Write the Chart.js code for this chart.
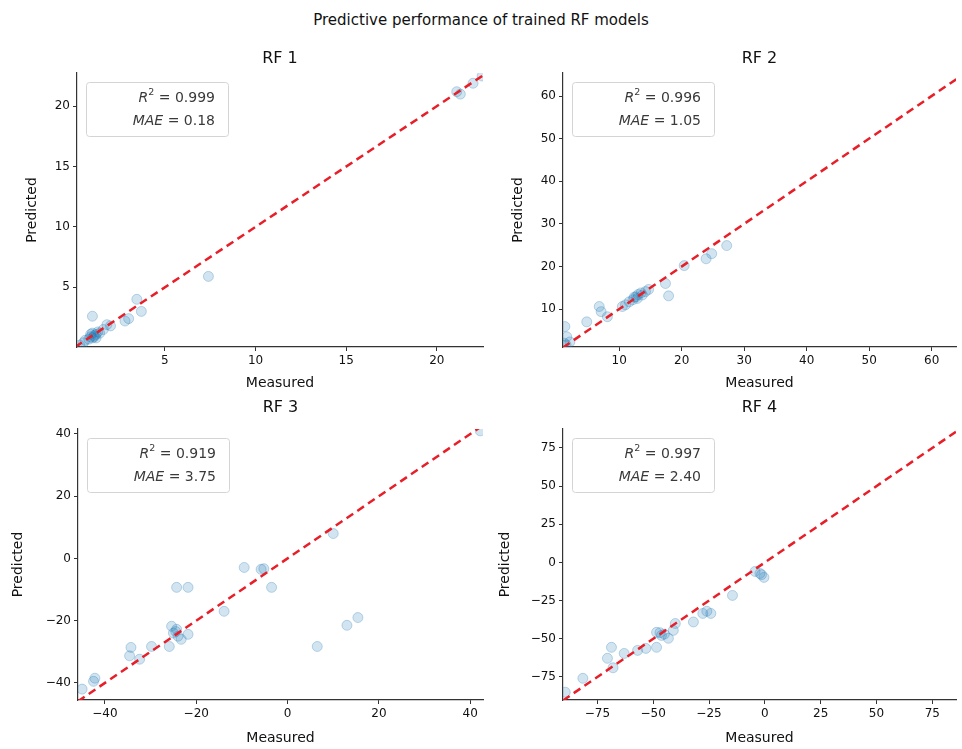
<!DOCTYPE html>
<html>
<head>
<meta charset="utf-8">
<script src="https://cdn.jsdelivr.net/npm/chart.js@4.4.0/dist/chart.umd.min.js"></script>
<style>
  html, body { margin: 0; padding: 0; background: #fff; overflow: hidden; }
  body { width: 962px; height: 749px; position: relative; font-family: "DejaVu Sans", sans-serif; }
  #suptitle { position: absolute; left: 0; top: 11px; width: 962px; text-align: center; font-size: 15px; color: #111; }
  canvas { position: absolute; }
</style>
</head>
<body>
<div id="suptitle">Predictive performance of trained RF models</div>
<canvas id="rf1" width="490" height="360" style="left:0;top:40px"></canvas>
<canvas id="rf2" width="472" height="360" style="left:490px;top:40px"></canvas>
<canvas id="rf3" width="490" height="354" style="left:0;top:395px"></canvas>
<canvas id="rf4" width="472" height="354" style="left:490px;top:395px"></canvas>
<script>
// 数据
const rf1Measured  = [0.3, 0.5, 0.6, 0.8, 0.9, 1.0, 1.1, 1.2, 1.3, 1.1, 1.4, 1.6, 0.9, 1.2, 1.0, 1.0, 1.8, 2.0, 2.8, 3.0, 3.45, 3.7, 7.4, 21.1, 21.3, 22.0, 22.5];
const rf1Predicted = [0.2, 0.4, 0.6, 0.7, 0.9, 1.2, 0.9, 1.1, 1.3, 1.0, 1.2, 1.5, 1.1, 0.8, 0.8, 2.6, 1.9, 1.8, 2.2, 2.4, 4.0, 3.0, 5.9, 21.2, 21.0, 21.9, 22.5];

const rf2Measured  = [1.3, 1.6, 2.1, 1.2, 1.5, 4.8, 6.8, 7.1, 8.1, 10.5, 11.0, 11.6, 12.2, 12.7, 12.9, 13.5, 13.7, 14.2, 14.7, 13.0, 12.4, 17.4, 17.9, 20.4, 23.9, 24.8, 27.2];
const rf2Predicted = [5.9, 3.5, 2.3, 2.0, 1.6, 7.0, 10.6, 9.4, 8.2, 10.6, 11.0, 11.7, 12.2, 12.9, 12.5, 13.8, 13.3, 14.1, 14.6, 13.4, 12.8, 16.0, 13.1, 20.2, 21.8, 23.0, 24.9];

const rf3Measured  = [-45, -42.2, -42.5, -34.3, -34.6, -32.4, -29.8, -25.9, -25.4, -24.3, -25, -24, -23.3, -21.8, -24.5, -24.3, -21.8, -13.9, -9.5, -5.8, -5.2, -3.5, 6.5, 13.0, 15.4, 10, 42.2];
const rf3Predicted = [-42, -38.5, -39.5, -28.6, -31.3, -32.4, -28.3, -28.3, -21.8, -22.8, -24, -25, -26, -24.4, -23.5, -9.3, -9.3, -17, -2.9, -3.5, -3.3, -9.3, -28.3, -21.5, -19, 8, 41];

const rf4Measured  = [-89.4, -81.5, -70.5, -68.7, -63, -68, -57, -53.3, -48.5, -48.5, -46.3, -43.2, -41, -40.1, -45, -47, -32, -27.8, -26, -24.2, -14.5, -4.4, -2.2, -0.4, -1.5];
const rf4Predicted = [-85, -75.9, -62.8, -55.6, -59.6, -69, -57.6, -56.3, -55.6, -45.8, -47.8, -49.7, -44.5, -40, -47, -46, -39, -33.4, -32, -33.4, -21.6, -5.9, -7.2, -9.8, -8];

// axis limits and tick steps
const rf1XLim = [0.15, 22.55], rf1YLim = [0.05, 22.75], rf1Step = 5;
const rf2XLim = [1.0, 63.9],   rf2YLim = [1.1, 65.4],   rf2Step = 10;
const rf3XLim = [-45.9, 42.8], rf3YLim = [-45.5, 41.6], rf3Step = 20;
const rf4XLim = [-90.4, 85.6], rf4YLim = [-90.1, 87.4], rf4Step = 25;

// metrics
const rf1Stats = ['0.999', '0.18'];
const rf2Stats = ['0.996', '1.05'];
const rf3Stats = ['0.919', '3.75'];
const rf4Stats = ['0.997', '2.40'];

const FONT = '"DejaVu Sans", sans-serif';

// R² / MAE box in the upper left corner
const statsBox = {
  id: 'statsBox',
  afterDraw(chart, args, opts) {
    const {ctx, chartArea} = chart;
    const x = chartArea.left + 9, y = chartArea.top + 9, w = 142, h = 54;
    ctx.save();
    ctx.fillStyle = 'rgba(255,255,255,0.85)';
    ctx.strokeStyle = '#d4d4d4';
    ctx.lineWidth = 1;
    ctx.beginPath();
    ctx.roundRect(x + 0.5, y + 0.5, w, h, 3);
    ctx.fill();
    ctx.stroke();
    ctx.fillStyle = '#3a3a3a';
    ctx.textBaseline = 'middle';
    const right = chartArea.left + 138;
    const lines = [
      [{t: 'R', f: 'italic 14px ' + FONT, dy: 0}, {t: '2', f: '9.5px ' + FONT, dy: -5}, {t: ' = ' + opts.stats[0], f: '14px ' + FONT, dy: 0}],
      [{t: 'MAE', f: 'italic 14px ' + FONT, dy: 0}, {t: ' = ' + opts.stats[1], f: '14px ' + FONT, dy: 0}]
    ];
    lines.forEach((parts, i) => {
      const cy = chartArea.top + 25 + i * 23;
      let total = 0;
      parts.forEach(p => { ctx.font = p.f; total += ctx.measureText(p.t).width; });
      let cx = right - total;
      parts.forEach(p => {
        ctx.font = p.f;
        ctx.fillText(p.t, cx, cy + p.dy);
        cx += ctx.measureText(p.t).width;
      });
    });
    ctx.restore();
  }
};

function minusSign(v) {
  return String(v).replace('-', '\u2212');
}

function makePanel(p) {
  const points = p.measured.map((m, i) => ({x: m, y: p.predicted[i]}));
  const lo = Math.min(p.xLim[0], p.yLim[0]), hi = Math.max(p.xLim[1], p.yLim[1]);
  const axis = (lim, width, height, title, titlePad) => ({
    type: 'linear',
    min: lim[0],
    max: lim[1],
    border: {display: true, color: '#333', width: 1.2},
    grid: {drawOnChartArea: false, drawTicks: true, tickLength: 4, color: '#333'},
    ticks: {stepSize: p.step, includeBounds: false, padding: 3, color: '#111',
            font: {family: FONT, size: 12}, callback: v => minusSign(v)},
    title: {display: true, text: title, color: '#111', font: {family: FONT, size: 14}, padding: titlePad},
    afterFit(scale) {
      if (width) scale.width = width;
      if (height) scale.height = height;
    }
  });
  return new Chart(document.getElementById(p.id), {
    type: 'scatter',
    data: {
      datasets: [
        {
          type: 'line',
          data: [{x: lo, y: lo}, {x: hi, y: hi}],
          borderColor: 'rgb(232,30,40)',
          borderWidth: 2.5,
          borderDash: [8, 5],
          pointRadius: 0,
          order: 0
        },
        {
          data: points,
          backgroundColor: 'rgba(31,119,180,0.2)',
          borderColor: 'rgba(31,119,180,0.28)',
          borderWidth: 1,
          pointRadius: 5,
          order: 1
        }
      ]
    },
    options: {
      responsive: false,
      animation: false,
      layout: {padding: {top: 0, right: p.padRight, bottom: 0, left: 0}},
      scales: {
        x: axis(p.xLim, 0, p.xHeight, 'Measured', {top: 0, bottom: p.xTitlePad}),
        y: axis(p.yLim, p.yWidth, 0, 'Predicted', {top: p.yTitlePad, bottom: 0})
      },
      plugins: {
        legend: {display: false},
        tooltip: {enabled: false},
        title: {display: true, text: p.title, fullSize: false, color: '#111',
                font: {family: FONT, size: 16, weight: 'normal'},
                padding: {top: p.titleTop, bottom: p.titleBottom}},
        statsBox: {stats: p.stats}
      }
    },
    plugins: [statsBox]
  });
}

[
  {id: 'rf1', title: 'RF 1', measured: rf1Measured, predicted: rf1Predicted, xLim: rf1XLim, yLim: rf1YLim, step: rf1Step, stats: rf1Stats,
   padRight: 7, xHeight: 53, yWidth: 77, xTitlePad: 8.6, yTitlePad: 23.6, titleTop: 9.4, titleBottom: 4.4},
  {id: 'rf2', title: 'RF 2', measured: rf2Measured, predicted: rf2Predicted, xLim: rf2XLim, yLim: rf2YLim, step: rf2Step, stats: rf2Stats,
   padRight: 0, xHeight: 53, yWidth: 73, xTitlePad: 8.6, yTitlePad: 19.6, titleTop: 9.4, titleBottom: 4.4},
  {id: 'rf3', title: 'RF 3', measured: rf3Measured, predicted: rf3Predicted, xLim: rf3XLim, yLim: rf3YLim, step: rf3Step, stats: rf3Stats,
   padRight: 7, xHeight: 49, yWidth: 78, xTitlePad: 2.6, yTitlePad: 9.6, titleTop: 3.4, titleBottom: 11.4},
  {id: 'rf4', title: 'RF 4', measured: rf4Measured, predicted: rf4Predicted, xLim: rf4XLim, yLim: rf4YLim, step: rf4Step, stats: rf4Stats,
   padRight: 0, xHeight: 49, yWidth: 73, xTitlePad: 2.6, yTitlePad: 6.6, titleTop: 3.4, titleBottom: 11.4}
].forEach(makePanel);
</script>
</body>
</html>
